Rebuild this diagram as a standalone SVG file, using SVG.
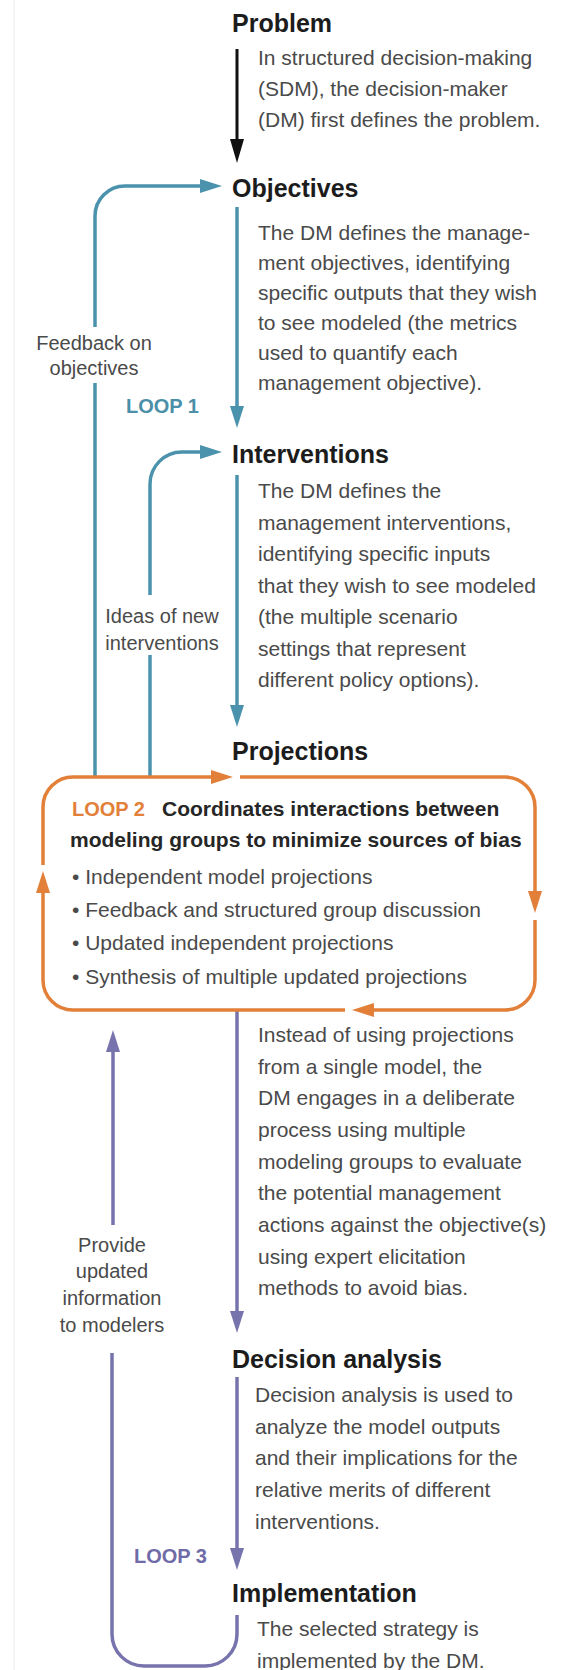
<svg xmlns="http://www.w3.org/2000/svg" width="567" height="1670" viewBox="0 0 567 1670">
  <style>
    .head { font-family: "Liberation Sans", Arial, sans-serif; font-weight: bold; font-size: 25px; fill: #1c1c1c; }
    .body { font-family: "Liberation Sans", Arial, sans-serif; font-size: 21px; fill: #4a4a4a; }
    .lbl { font-family: "Liberation Sans", Arial, sans-serif; font-size: 20px; fill: #4a4a4a; text-anchor: middle; }
    .bold { font-family: "Liberation Sans", Arial, sans-serif; font-weight: bold; font-size: 21px; fill: #262626; }
    .loop { font-family: "Liberation Sans", Arial, sans-serif; font-weight: bold; font-size: 20px; }
    .teal { stroke: #4b93ad; }
    .orange { stroke: #e2803a; }
    .purple { stroke: #7773ad; }
    .ln { fill: none; stroke-width: 3.5; }
  </style>
  <defs>
    <marker id="ah-black" viewBox="0 0 24 14" refX="14" refY="7" markerWidth="24" markerHeight="14" markerUnits="userSpaceOnUse" orient="auto">
      <path d="M0,0 L24,7 L0,14 Z" fill="#111"/>
    </marker>
    <marker id="ah-teal" viewBox="0 0 22 14" refX="12" refY="7" markerWidth="22" markerHeight="14" markerUnits="userSpaceOnUse" orient="auto">
      <path d="M0,0 L22,7 L0,14 Z" fill="#4b93ad"/>
    </marker>
    <marker id="ah-orange" viewBox="0 0 22 14" refX="12" refY="7" markerWidth="22" markerHeight="14" markerUnits="userSpaceOnUse" orient="auto">
      <path d="M0,0 L22,7 L0,14 Z" fill="#e2803a"/>
    </marker>
    <marker id="ah-purple" viewBox="0 0 22 14" refX="12" refY="7" markerWidth="22" markerHeight="14" markerUnits="userSpaceOnUse" orient="auto">
      <path d="M0,0 L22,7 L0,14 Z" fill="#7773ad"/>
    </marker>
  </defs>

  <rect x="0" y="0" width="567" height="1670" fill="#ffffff"/>
  <line x1="14" y1="0" x2="14" y2="1670" stroke="#ececec" stroke-width="1"/>

  <!-- connectors -->
  <g id="connectors">
    <!-- main flow -->
    <path d="M237,49 V153" fill="none" stroke="#111" stroke-width="3" marker-end="url(#ah-black)"/>
    <path class="ln teal" d="M237,207 V418" marker-end="url(#ah-teal)"/>
    <path class="ln teal" d="M237,475 V717" marker-end="url(#ah-teal)"/>
    <path class="ln purple" d="M237,1010 V1323" marker-end="url(#ah-purple)"/>
    <path class="ln purple" d="M237,1377 V1560" marker-end="url(#ah-purple)"/>

    <!-- loop 1: feedback on objectives -->
    <path class="ln teal" d="M95,777 V383"/>
    <path class="ln teal" d="M95,327 V216 A30,30 0 0 1 125,186 H212" marker-end="url(#ah-teal)"/>

    <!-- loop 1: ideas of new interventions -->
    <path class="ln teal" d="M150,777 V655"/>
    <path class="ln teal" d="M150,595 V484 A32,32 0 0 1 182,452 H212" marker-end="url(#ah-teal)"/>

    <!-- loop 2: box around projections -->
    <path class="ln orange" d="M43,865 V807 A30,30 0 0 1 73,777 H223" marker-end="url(#ah-orange)"/>
    <path class="ln orange" d="M240,777 H505 A30,30 0 0 1 535,807 V903" marker-end="url(#ah-orange)"/>
    <path class="ln orange" d="M535,920 V980 A30,30 0 0 1 505,1010 H362" marker-end="url(#ah-orange)"/>
    <path class="ln orange" d="M345,1010 H73 A30,30 0 0 1 43,980 V881" marker-end="url(#ah-orange)"/>

    <!-- loop 3: updated information back to modelers -->
    <path class="ln purple" d="M113,1225 V1040" marker-end="url(#ah-purple)"/>
    <path class="ln purple" d="M112,1353 V1634 A32,32 0 0 0 144,1666 H205 A32,32 0 0 0 237,1634 V1615"/>
  </g>

  <g id="problem">
    <text class="head" x="232" y="32">Problem</text>
    <text class="body" x="258" y="65">In structured decision-making</text>
    <text class="body" x="258" y="96">(SDM), the decision-maker</text>
    <text class="body" x="258" y="127">(DM) first defines the problem.</text>
  </g>

  <g id="objectives">
    <text class="head" x="232" y="197">Objectives</text>
    <text class="body" x="258" y="240">The DM defines the manage-</text>
    <text class="body" x="258" y="270">ment objectives, identifying</text>
    <text class="body" x="258" y="300">specific outputs that they wish</text>
    <text class="body" x="258" y="330">to see modeled (the metrics</text>
    <text class="body" x="258" y="360">used to quantify each</text>
    <text class="body" x="258" y="390">management objective).</text>
  </g>

  <g id="loop1-labels">
    <text class="lbl" x="94" y="350">Feedback on</text>
    <text class="lbl" x="94" y="375">objectives</text>
    <text class="loop" x="126" y="413" fill="#4b8fa8">LOOP 1</text>
    <text class="lbl" x="162" y="623">Ideas of new</text>
    <text class="lbl" x="162" y="650">interventions</text>
  </g>

  <g id="interventions">
    <text class="head" x="232" y="463">Interventions</text>
    <text class="body" x="258" y="498">The DM defines the</text>
    <text class="body" x="258" y="529.5">management interventions,</text>
    <text class="body" x="258" y="561">identifying specific inputs</text>
    <text class="body" x="258" y="592.5">that they wish to see modeled</text>
    <text class="body" x="258" y="624">(the multiple scenario</text>
    <text class="body" x="258" y="655.5">settings that represent</text>
    <text class="body" x="258" y="687">different policy options).</text>
  </g>

  <g id="projections">
    <text class="head" x="232" y="760">Projections</text>
    <text class="loop" x="72" y="816" fill="#e2803a">LOOP 2</text>
    <text class="bold" x="162" y="816">Coordinates interactions between</text>
    <text class="bold" x="70" y="847">modeling groups to minimize sources of bias</text>
    <text class="body" x="72" y="884">• Independent model projections</text>
    <text class="body" x="72" y="917">• Feedback and structured group discussion</text>
    <text class="body" x="72" y="950">• Updated independent projections</text>
    <text class="body" x="72" y="984">• Synthesis of multiple updated projections</text>
    <text class="body" x="258" y="1042">Instead of using projections</text>
    <text class="body" x="258" y="1074">from a single model, the</text>
    <text class="body" x="258" y="1105">DM engages in a deliberate</text>
    <text class="body" x="258" y="1137">process using multiple</text>
    <text class="body" x="258" y="1169">modeling groups to evaluate</text>
    <text class="body" x="258" y="1200">the potential management</text>
    <text class="body" x="258" y="1232">actions against the objective(s)</text>
    <text class="body" x="258" y="1264">using expert elicitation</text>
    <text class="body" x="258" y="1295">methods to avoid bias.</text>
  </g>

  <g id="loop3-labels">
    <text class="lbl" x="112" y="1252">Provide</text>
    <text class="lbl" x="112" y="1278">updated</text>
    <text class="lbl" x="112" y="1305">information</text>
    <text class="lbl" x="112" y="1332">to modelers</text>
    <text class="loop" x="134" y="1563" fill="#6f6ba8">LOOP 3</text>
  </g>

  <g id="decision-analysis">
    <text class="head" x="232" y="1368">Decision analysis</text>
    <text class="body" x="255" y="1402">Decision analysis is used to</text>
    <text class="body" x="255" y="1434">analyze the model outputs</text>
    <text class="body" x="255" y="1465">and their implications for the</text>
    <text class="body" x="255" y="1497">relative merits of different</text>
    <text class="body" x="255" y="1529">interventions.</text>
  </g>

  <g id="implementation">
    <text class="head" x="232" y="1602">Implementation</text>
    <text class="body" x="257" y="1636">The selected strategy is</text>
    <text class="body" x="257" y="1668">implemented by the DM.</text>
  </g>
</svg>
